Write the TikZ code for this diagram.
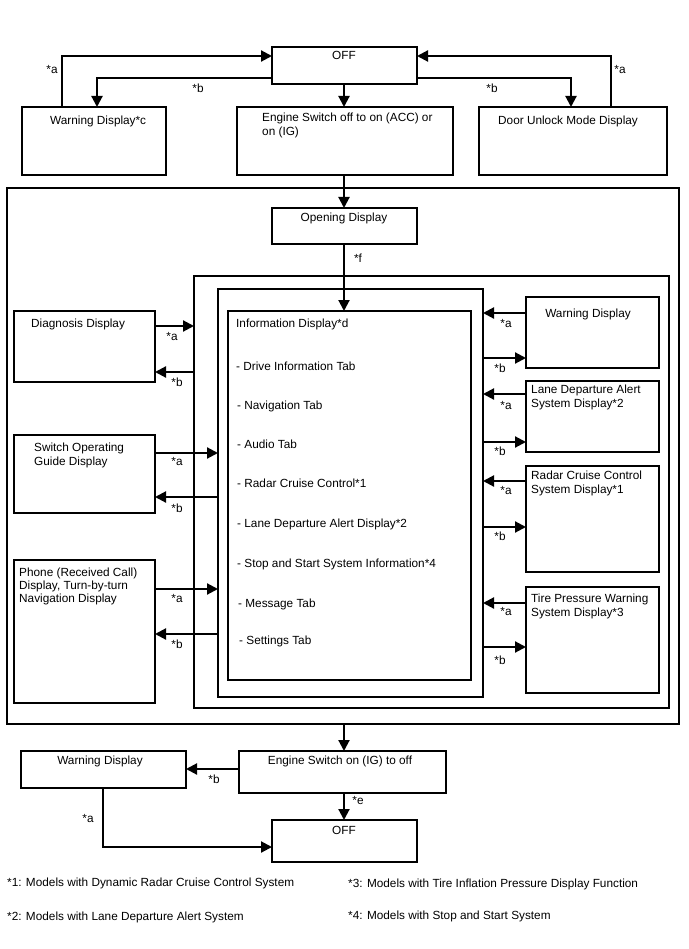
\documentclass[tikz,border=0pt]{standalone}
\usepackage{fontspec}
\setmainfont{Liberation Sans}
\usetikzlibrary{arrows.meta}
\tikzset{
  box/.style={draw, line width=1.4pt, inner sep=0pt, outer sep=0pt, anchor=north west},
  arr/.style={line width=2.1pt, -{Triangle[length=11pt,width=11pt]}},
  txt/.style={inner sep=0pt, anchor=north west, align=left},
  ctxt/.style={inner sep=0pt, anchor=north, align=center},
  lbl/.style={inner sep=0pt, anchor=center},
  fnote/.style={inner sep=0pt, anchor=north west}
}
\begin{document}
\begin{tikzpicture}[x=1pt,y=-1pt,font=\fontsize{11.8}{13.9}\selectfont]
\useasboundingbox (0,0) rectangle (688,949);
% boxes
\node[box, minimum width=145pt, minimum height=37pt] (off1) at (272,47) {};
\node[box, minimum width=144pt, minimum height=68pt] (warnc) at (22,107) {};
\node[box, minimum width=216pt, minimum height=68pt] (eng1) at (237,107) {};
\node[box, minimum width=188pt, minimum height=68pt] (door) at (479,107) {};
\node[box, minimum width=672pt, minimum height=536pt] (outer) at (7,188) {};
\node[box, minimum width=145pt, minimum height=36pt] (open) at (272,208) {};
\node[box, minimum width=475pt, minimum height=432pt] (frame2) at (194,276) {};
\node[box, minimum width=265pt, minimum height=408pt] (frame3) at (218,289) {};
\node[box, minimum width=243pt, minimum height=369pt] (info) at (228,311) {};
\node[box, minimum width=141pt, minimum height=71pt] (diag) at (14,311) {};
\node[box, minimum width=141pt, minimum height=78pt] (switch) at (14,435) {};
\node[box, minimum width=141pt, minimum height=143pt] (phone) at (14,560) {};
\node[box, minimum width=133pt, minimum height=71pt] (warnr) at (526,297) {};
\node[box, minimum width=133pt, minimum height=71pt] (lane) at (526,381) {};
\node[box, minimum width=133pt, minimum height=106pt] (radar) at (526,466) {};
\node[box, minimum width=133pt, minimum height=106pt] (tire) at (526,587) {};
\node[box, minimum width=165pt, minimum height=37pt] (warnl) at (21,751) {};
\node[box, minimum width=207pt, minimum height=42pt] (eng2) at (239,751) {};
\node[box, minimum width=145pt, minimum height=42pt] (off2) at (272,820) {};
% texts
\node[ctxt] (t-off1) at (344,51) {OFF};
\node[txt] (t-warnc) at (50,115.5) {Warning Display*c};
\node[txt] (t-eng1) at (262,112.5) {Engine Switch off to on (ACC) or\\on (IG)};
\node[txt] (t-door) at (498,115.5) {Door Unlock Mode Display};
\node[ctxt] (t-open) at (344,212.5) {Opening Display};
\node[txt] (t-info0) at (236,318.5) {Information Display*d};
\node[txt] (t-info1) at (236,361.5) {- Drive Information Tab};
\node[txt] (t-info2) at (237,400.5) {- Navigation Tab};
\node[txt] (t-info3) at (237,439.5) {- Audio Tab};
\node[txt] (t-info4) at (237,478.5) {- Radar Cruise Control*1};
\node[txt] (t-info5) at (237,518.5) {- Lane Departure Alert Display*2};
\node[txt] (t-info6) at (237,558.5) {- Stop and Start System Information*4};
\node[txt] (t-info7) at (238,598.5) {- Message Tab};
\node[txt] (t-info8) at (239,635.5) {- Settings Tab};
\node[txt] (t-diag) at (31,318.5) {Diagnosis Display};
\node[txt] (t-switch) at (34,442.5) {Switch Operating\\Guide Display};
\node[txt, font=\fontsize{11.8}{13.1}\selectfont] (t-phone) at (19,567.5) {Phone (Received Call)\\Display, Turn-by-turn\\Navigation Display};
\node[ctxt] (t-warnr) at (588,308.5) {Warning Display};
\node[txt] (t-lane) at (531,384.5) {Lane Departure Alert\\System Display*2};
\node[txt] (t-radar) at (531,470.5) {Radar Cruise Control\\System Display*1};
\node[txt] (t-tire) at (531,593.5) {Tire Pressure Warning\\System Display*3};
\node[ctxt] (t-warnl) at (100,755.5) {Warning Display};
\node[ctxt] (t-eng2) at (340,755.5) {Engine Switch on (IG) to off};
\node[ctxt] (t-off2) at (344,826.5) {OFF};
\node[fnote] (fn1) at (7,878) {*1: Models with Dynamic Radar Cruise Control System};
\node[fnote] (fn3) at (348,879) {*3: Models with Tire Inflation Pressure Display Function};
\node[fnote] (fn2) at (7,912) {*2: Models with Lane Departure Alert System};
\node[fnote] (fn4) at (348,911) {*4: Models with Stop and Start System};
% top connectors
\draw[arr] (62,0 |- warnc.north) |- (off1.west |- 0,56);
\draw[arr] (off1.west |- 0,78) -| (97,0 |- warnc.north);
\draw[arr] (344,0 |- off1.south) -- (344,0 |- eng1.north);
\draw[arr] (off1.east |- 0,78) -| (571,0 |- door.north);
\draw[arr] (611,0 |- door.north) |- (off1.east |- 0,56);
\node[lbl] (l1) at (52,70) {*a};
\node[lbl] (l2) at (198,88) {*b};
\node[lbl] (l3) at (492,88) {*b};
\node[lbl] (l4) at (620,70) {*a};
% middle
\draw[arr] (344,0 |- eng1.south) -- (344,0 |- open.north);
\draw[arr] (344,0 |- open.south) -- (344,0 |- info.north);
\node[lbl] (lf) at (358,258) {*f};
% left side
\draw[arr] (diag.east |- 0,326) -- (frame2.west |- 0,326);
\draw[arr] (frame2.west |- 0,372) -- (diag.east |- 0,372);
\draw[arr] (switch.east |- 0,453) -- (frame3.west |- 0,453);
\draw[arr] (frame3.west |- 0,497) -- (switch.east |- 0,497);
\draw[arr] (phone.east |- 0,589) -- (frame3.west |- 0,589);
\draw[arr] (frame3.west |- 0,634) -- (phone.east |- 0,634);
\node[lbl] (la1) at (172,336) {*a};
\node[lbl] (lb1) at (177,382) {*b};
\node[lbl] (la2) at (177,461) {*a};
\node[lbl] (lb2) at (177,508) {*b};
\node[lbl] (la3) at (177,598) {*a};
\node[lbl] (lb3) at (177,644) {*b};
% right side
\draw[arr] (warnr.west |- 0,313) -- (frame3.east |- 0,313);
\draw[arr] (frame3.east |- 0,358) -- (warnr.west |- 0,358);
\draw[arr] (lane.west |- 0,394) -- (frame3.east |- 0,394);
\draw[arr] (frame3.east |- 0,442) -- (lane.west |- 0,442);
\draw[arr] (radar.west |- 0,481) -- (frame3.east |- 0,481);
\draw[arr] (frame3.east |- 0,527) -- (radar.west |- 0,527);
\draw[arr] (tire.west |- 0,603) -- (frame3.east |- 0,603);
\draw[arr] (frame3.east |- 0,647) -- (tire.west |- 0,647);
\node[lbl] (ra1) at (506,323) {*a};
\node[lbl] (rb1) at (500,368) {*b};
\node[lbl] (ra2) at (506,405) {*a};
\node[lbl] (rb2) at (500,451) {*b};
\node[lbl] (ra3) at (506,490) {*a};
\node[lbl] (rb3) at (500,536) {*b};
\node[lbl] (ra4) at (506,611) {*a};
\node[lbl] (rb4) at (500,660) {*b};
% bottom
\draw[arr] (344,0 |- outer.south) -- (344,0 |- eng2.north);
\draw[arr] (eng2.west |- 0,769) -- (warnl.east |- 0,769);
\draw[arr] (344,0 |- eng2.south) -- (344,0 |- off2.north);
\draw[arr] (103,0 |- warnl.south) |- (off2.west |- 0,847);
\node[lbl] (lb5) at (214,779) {*b};
\node[lbl] (le) at (358,800) {*e};
\node[lbl] (la5) at (88,818) {*a};
\end{tikzpicture}
\end{document}
